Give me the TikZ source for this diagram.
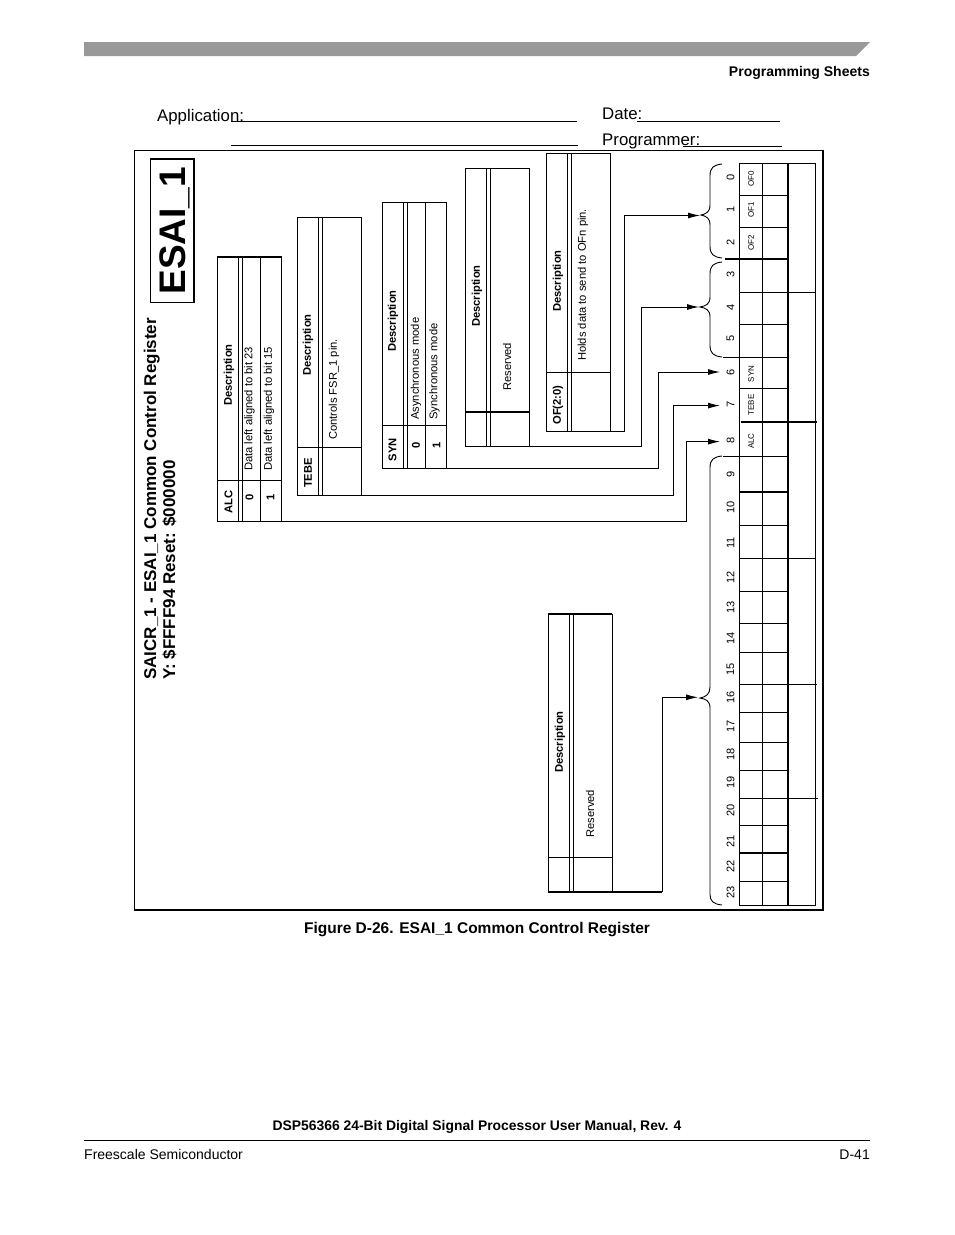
\documentclass[tikz,border=0pt]{standalone}
\usepackage{fontspec}
\setmainfont{Liberation Sans}
\usetikzlibrary{arrows.meta}
\tikzset{
	thin line/.style={line width=0.9pt},
	thick line/.style={line width=1.6pt},
	wire/.style={line width=0.9pt,-{Latex[length=12pt,width=6pt]}},
	brace line/.style={line width=0.9pt},
	cell/.style={rotate=90,inner sep=0pt,font=\fontsize{11.2}{13}\selectfont},
	cell text/.style={cell,anchor=west},
	cell bold/.style={cell,font=\fontsize{11.2}{13}\selectfont\bfseries},
	bit/.style={rotate=90,inner sep=0pt,font=\fontsize{11}{13}\selectfont},
	reg/.style={rotate=90,inner sep=0pt,font=\fontsize{8}{9}\selectfont},
	form/.style={anchor=base west,inner sep=0pt,font=\fontsize{16.8}{18}\selectfont},
	title text/.style={rotate=90,anchor=base west,inner sep=0pt,font=\fontsize{17}{19}\selectfont\bfseries},
	page text/.style={inner sep=0pt,font=\fontsize{14}{16}\selectfont},
}
\begin{document}
\begin{tikzpicture}[x=1pt,y=-1pt]
			\useasboundingbox (0,0) rectangle (954,1235);
			\fill [white] (0,0) rectangle (954,1235);

			% page header
			\fill [black!40] (84,42) -- (870,42) -- (856,56) -- (84,56) -- cycle;
			\node [page text,anchor=base east,font=\fontsize{14}{16}\selectfont\bfseries] (sheets) at (870,76) {Programming Sheets};

			% form lines
			\node [form] (application) at (157,121) {Application:};
			\node [form] (date) at (602,119) {Date:};
			\node [form] (programmer) at (602,145) {Programmer:};
			\draw [thin line] (231,121) -- (577,121);
			\draw [thin line] (231,145) -- (578,145);
			\draw [thin line] (637,121) -- (780,121);
			\draw [thin line] (683,146) -- (782,146);

			% frame
			\draw [line width=1.4pt] (134.5,150.5) rectangle (823,910);
			\node [draw,line width=1.2pt,minimum width=43.3pt,minimum height=143.3pt,inner sep=0pt] (esaibox) at (172.3,230.6) {};
			\node [rotate=90,anchor=base,inner sep=0pt,font=\fontsize{37}{40}\selectfont\bfseries] (esai) at (185,230.6) {ESAI\_1};
			\node [title text] (title) at (156,680) {SAICR\_1 - ESAI\_1 Common Control Register};
			\node [title text] (reset) at (175,680) {Y: \$FFFF94 Reset: \$000000};

			% ALC table
			\draw [thin line] (217,256.7) rectangle (281.7,521.7);
			\draw [thick line] (217,256.7) -- (281.7,256.7);
			\draw [thin line] (217,480.7) -- (281.7,480.7);
			\draw [thin line] (238.3,256.7) -- (238.3,521.7) (242.3,256.7) -- (242.3,521.7) (260,256.7) -- (260,521.7);
			\node [cell bold] (alchead) at (228.5,502) {ALC};
			\node [cell bold] (alcdesc) at (229,375) {Description};
			\node [cell bold] (alczero) at (249.5,497) {0};
			\node [cell bold] (alcone) at (270.5,497) {1};
			\node [cell text] (alczerotext) at (249.5,471) {Data left aligned to bit 23};
			\node [cell text] (alconetext) at (269,471) {Data left aligned to bit 15};

			% TEBE table
			\draw [thin line] (297.3,217.7) rectangle (361.7,495);
			\draw [thin line] (297.3,447.3) -- (361.7,447.3);
			\draw [thin line] (318.3,217.7) -- (318.3,495) (322.3,217.7) -- (322.3,495);
			\node [cell bold] (tebehead) at (308,473) {TEBE};
			\node [cell bold] (tebedesc) at (308,345) {Description};
			\node [cell text] (tebetext) at (334,440) {Controls FSR\_1 pin.};

			% SYN table
			\draw [thin line] (382.3,202.3) rectangle (446.7,468.3);
			\draw [thin line] (382.3,425.7) -- (446.7,425.7);
			\draw [thin line] (403.3,202.3) -- (403.3,468.3) (407.3,202.3) -- (407.3,468.3) (425.7,202.3) -- (425.7,468.3);
			\node [cell bold] (synhead) at (392.5,449.5) {SYN};
			\node [cell bold] (syndesc) at (393,321) {Description};
			\node [cell bold] (synzero) at (416,445) {0};
			\node [cell bold] (synone) at (436.5,445) {1};
			\node [cell text] (synzerotext) at (416,420) {Asynchronous mode};
			\node [cell text] (synonetext) at (434.5,420) {Synchronous mode};

			% reserved table
			\draw [thin line] (465.3,168.3) rectangle (529.3,446);
			\draw [thick line] (465.3,411.7) -- (529.3,411.7);
			\draw [thin line] (486,168.3) -- (486,446) (490.3,168.3) -- (490.3,446);
			\node [cell bold] (reshead) at (477,296) {Description};
			\node [cell text] (restext) at (507,391) {Reserved};

			% OF table
			\draw [thin line] (546.3,153.3) rectangle (610.3,431);
			\draw [thin line] (546.3,372.3) -- (610.3,372.3);
			\draw [thin line] (567.3,153.3) -- (567.3,431) (571.7,153.3) -- (571.7,431);
			\node [cell bold] (ofhead) at (558,405) {OF(2:0)};
			\node [cell bold] (ofdesc) at (558,281) {Description};
			\node [cell text] (oftext) at (583,361) {Holds data to send to OFn pin.};

			% lower reserved table
			\draw [thin line] (548.3,614) rectangle (612.3,891.7);
			\draw [thick line] (548.3,614) -- (612.3,614);
			\draw [thin line] (548.3,857.3) -- (612.3,857.3);
			\draw [thin line] (569.3,614) -- (569.3,891.7) (573.3,614) -- (573.3,891.7);
			\draw [thick line] (548.3,891.7) -- (612.3,891.7);
			\node [cell bold] (lowhead) at (560,742) {Description};
			\node [cell text] (lowtext) at (590,838) {Reserved};

			% register
			\draw [thin line] (739.5,163) rectangle (815.5,905);
			\draw [thick line] (739.5,163) -- (739.5,905);
			\draw [thin line] (762.5,163) -- (762.5,905);
			\draw [line width=1.4pt] (788,163) -- (788,905);
			\foreach \rowy in {195,227,292,324,388,456,525,558,591,623,652,684,712,742,770,798,825,853,881}
				\draw [thin line] (739.5,\rowy) -- (788,\rowy);
			\draw [thick line] (725,259) -- (788,259);
			\draw [thin line] (723,357) -- (788,357);
			\draw [thin line] (723,456) -- (740,456);
			\draw [line width=1.4pt] (741,422) -- (817,422);
			\draw [thick line] (739.5,492) -- (788,492);
			\draw [thin line] (788,292) -- (815,292);
			\draw [thin line] (788,558) -- (815.5,558);
			\draw [thin line] (788,684) -- (817,684);
			\draw [thin line] (739.5,798) -- (818,798);
			\draw [line width=1.1pt] (739.5,853) -- (788,853);

			% bit numbers
			\foreach \bitnum/\bity in {0/177,1/209,2/242,3/274,4/307,5/338,6/372,7/404,8/440,9/474,10/507,11/543,12/577,13/607,14/638,15/669,16/697,17/726,18/754,19/782,20/810,21/841,22/866,23/892}
				\node [bit] (bit\bitnum) at (730.5,\bity) {\bitnum};
			\foreach \regname/\regy in {OF0/179,OF1/210,OF2/243,SYN/374,TEBE/405,ALC/441}
				\node [reg] (reg\regname) at (751,\regy) {\regname};

			% braces
			\draw [brace line] (722,164) .. controls (713,165) and (710,168) .. (710,176) -- (710,205) .. controls (710,212) and (706,214) .. (701,215) .. controls (706,216) and (710,218) .. (710,225) -- (710,246) .. controls (710,254) and (713,257) .. (722,258);
			\draw [brace line] (722,262) .. controls (713,263) and (710,266) .. (710,274) -- (710,297) .. controls (710,304) and (706,306) .. (700,307) .. controls (706,308) and (710,310) .. (710,317) -- (710,345) .. controls (710,353) and (713,356) .. (722,357);
			\draw [brace line] (722,456) .. controls (713,457) and (710,460) .. (710,468) -- (710,687) .. controls (710,694) and (706,697) .. (700,698) .. controls (706,699) and (710,701) .. (710,708) -- (710,894) .. controls (710,901) and (713,904) .. (722,905);

			% connectors
			\coordinate (ofout) at (610.3,431);
			\coordinate (resout) at (529.3,446);
			\coordinate (synout) at (446.7,468.3);
			\coordinate (tebeout) at (361.7,495);
			\coordinate (alcout) at (281.7,521.7);
			\coordinate (lowout) at (612.3,891.7);
			\coordinate (ofin) at (700,215.5);
			\coordinate (resin) at (699,307);
			\coordinate (synin) at (720,372);
			\coordinate (tebein) at (720,405.6);
			\coordinate (alcin) at (720,441.6);
			\coordinate (lowin) at (698,697.3);
			\coordinate (ofbus) at (624,0);
			\coordinate (resbus) at (641.7,0);
			\coordinate (synbus) at (658.3,0);
			\coordinate (tebebus) at (673.3,0);
			\coordinate (alcbus) at (686.7,0);
			\coordinate (lowbus) at (662.3,0);
			\draw [wire] (ofout) -- (ofbus |- ofout) -- (ofbus |- ofin) -- (ofin);
			\draw [wire] (resout) -- (resbus |- resout) -- (resbus |- resin) -- (resin);
			\draw [wire] (synout) -- (synbus |- synout) -- (synbus |- synin) -- (synin);
			\draw [wire] (tebeout) -- (tebebus |- tebeout) -- (tebebus |- tebein) -- (tebein);
			\draw [wire] (alcout) -- (alcbus |- alcout) -- (alcbus |- alcin) -- (alcin);
			\draw [thick line] (lowout) -- (lowbus |- lowout);
			\draw [wire] (lowbus |- lowout) -- (lowbus |- lowin) -- (lowin);

			% caption and footer
			\node [page text,anchor=base,font=\fontsize{15.5}{17}\selectfont\bfseries] (caption) at (477,933) {Figure D-26. ESAI\_1 Common Control Register};
			\node [page text,anchor=base,font=\fontsize{13.9}{16}\selectfont\bfseries] (manual) at (477,1130) {DSP56366 24-Bit Digital Signal Processor User Manual, Rev. 4};
			\draw [thin line] (84,1140) -- (870,1140);
			\node [page text,anchor=base west] (vendor) at (84,1159) {Freescale Semiconductor};
			\node [page text,anchor=base east] (pagenum) at (870,1159) {D-41};
		\end{tikzpicture}
\end{document}
